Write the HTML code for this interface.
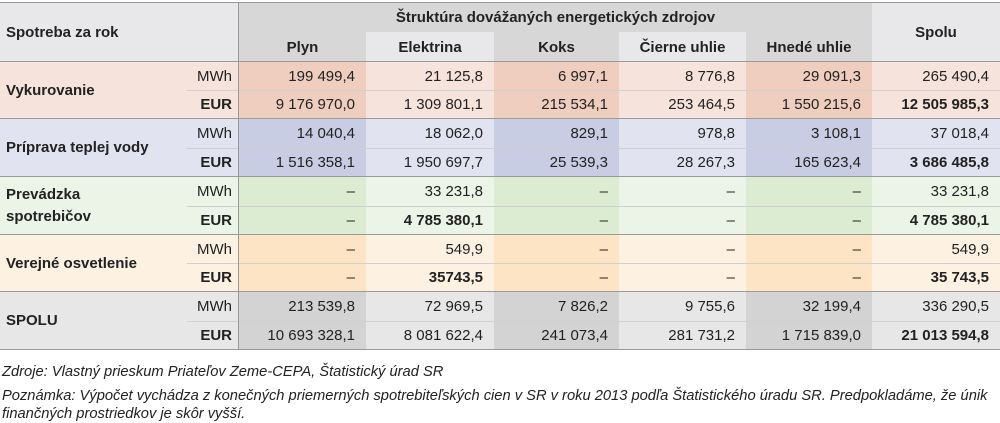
<!DOCTYPE html>
<html><head><meta charset="utf-8">
<style>
body{margin:0;width:1000px;height:423px;background:#fff;font-family:"Liberation Sans",sans-serif;color:#222;overflow:hidden;position:relative}
.c{position:absolute;box-sizing:border-box;font-size:15px;white-space:nowrap;display:flex;align-items:center}
.r{justify-content:flex-end;padding-right:11px}
.ctr{justify-content:center}
.b{font-weight:bold}
.ln{position:absolute;height:1px}
.note{position:absolute;left:2px;font-size:14.7px;font-style:italic;color:#222;white-space:nowrap}
</style></head><body>
<div id="tbl"></div>
<div class="note" style="top:364px">Zdroje: Vlastný prieskum Priateľov Zeme-CEPA, Štatistický úrad SR</div>
<div class="note" style="top:388px">Poznámka: Výpočet vychádza z konečných priemerných spotrebiteľských cien v SR v roku 2013 podľa Štatistického úradu SR. Predpokladáme, že únik</div>
<div class="note" style="top:406px">finančných prostriedkov je skôr vyšší.</div>
<script>
const columns=["Plyn","Elektrina","Koks","Čierne uhlie","Hnedé uhlie","Spolu"];
const groups=["Vykurovanie","Príprava teplej vody","Prevádzka<br>spotrebičov","Verejné osvetlenie","SPOLU"];
const units=["MWh","EUR"];
const values=[
 ["199 499,4","21 125,8","6 997,1","8 776,8","29 091,3","265 490,4"],
 ["9 176 970,0","1 309 801,1","215 534,1","253 464,5","1 550 215,6","12 505 985,3"],
 ["14 040,4","18 062,0","829,1","978,8","3 108,1","37 018,4"],
 ["1 516 358,1","1 950 697,7","25 539,3","28 267,3","165 623,4","3 686 485,8"],
 ["–","33 231,8","–","–","–","33 231,8"],
 ["–","4 785 380,1","–","–","–","4 785 380,1"],
 ["–","549,9","–","–","–","549,9"],
 ["–","35743,5","–","–","–","35 743,5"],
 ["213 539,8","72 969,5","7 826,2","9 755,6","32 199,4","336 290,5"],
 ["10 693 328,1","8 081 622,4","241 073,4","281 731,2","1 715 839,0","21 013 594,8"]
];
const boldCells=[[5,1],[7,1]];
const xs=[239,366,494,619,746,872,1000];
const ys=[62,90,119,148,177,206,235,263,292,321,350];
const light=["#f6e3db","#e2e3f0","#ebf4e6","#fdf1e1","#e7e7e8"];
const dark=["#efcdbf","#c9cde4","#dcecd3","#fde4c4","#d3d3d4"];
const T=document.getElementById('tbl');
function box(x,y,w,h,bg,cls,html){const d=document.createElement('div');d.className='c '+(cls||'');d.style.cssText=`left:${x}px;top:${y}px;width:${w}px;height:${h}px;background:${bg||'transparent'}`;d.innerHTML=html||'';T.appendChild(d);return d;}
function line(x,y,w,col){const d=document.createElement('div');d.className='ln';d.style.cssText=`left:${x}px;top:${y}px;width:${w}px;background:${col}`;


T.appendChild(d);}
let h=box(0,3,239,59,'#e8e8ea','b','<span style="padding-left:6px">Spotreba za rok</span>');


h=box(239,3,633,29,'#d7d7d8','b ctr','Štruktúra dovážaných energetických zdrojov');


for(let i=0;i<5;i++){h=box(xs[i],32,xs[i+1]-xs[i],30,i%2?'#e8e8ea':'#d7d7d8','b ctr',columns[i]);

}
h=box(872,3,128,59,'#e8e8ea','b ctr',columns[5]);


line(0,2,1000,'#999');
for(let g=0;g<groups.length;g++){
 const y0=ys[g*2],y2=ys[g*2+2];
 let l=box(0,y0,239,y2-y0,light[g],'b','<span style="padding-left:6px;line-height:22px">'+groups[g]+'</span>');
 
 
 for(let u=0;u<2;u++){
  const ri=g*2+u,y=ys[ri],hh=ys[ri+1]-y;
  let un=box(187,y,52,hh,'transparent','r'+(u?' b':''),units[u]);
  un.style.paddingRight='7px';
  
  
  for(let c=0;c<6;c++){
   const bold=(u===1&&c===5)||boldCells.some(p=>p[0]===ri&&p[1]===c);
   const bg=(c%2===0&&c<5)?dark[g]:light[g];
   let cell=box(xs[c],y,xs[c+1]-xs[c],hh,bg,'r'+(bold?' b':''),values[ri][c]);
   
   
  }
 }
 line(187,ys[g*2+1],813,'#ffffff');
 line(187,ys[g*2+1],813,'rgba(150,150,150,0.45)');
 line(0,y2-1,1000,'#9a9a9a');
}
line(0,61,1000,'#9a9a9a');
const v=document.createElement('div');
v.style.cssText='position:absolute;left:238px;top:3px;width:1px;height:347px;background:#9a9a9a';


T.appendChild(v);
</script>
</body></html>
